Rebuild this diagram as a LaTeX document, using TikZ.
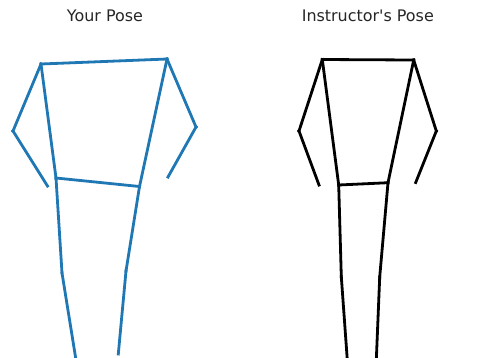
\documentclass[tikz,border=0pt]{standalone}
\usepackage{fontspec}
\setmainfont{DejaVu Sans}
\definecolor{poseblue}{RGB}{31,119,180}
\definecolor{posetitle}{RGB}{38,38,38}
\usetikzlibrary{positioning}

\begin{document}
\begin{tikzpicture}[x=1bp,y=-1bp,
  posetitle/.style={anchor=base,font=\fontsize{16}{19}\selectfont,text=posetitle},
  yourbone/.style={line width=2.8bp,poseblue,line cap=rect},
  instrbone/.style={line width=2.8bp,black,line cap=rect}
]
  \useasboundingbox (0,0) rectangle (483,357);
  % Titles
  \node[posetitle] (yourtitle) at (105,21.5) {Your Pose};
  \node[posetitle] (instrtitle) at (367.8,21.5) {Instructor\textquotesingle s Pose};
  % Your pose joints
  \coordinate (yls) at (41,64);
  \coordinate (yrs) at (167,59);
  \coordinate (yle) at (13,131);
  \coordinate (ylw) at (47.5,186);
  \coordinate (yre) at (196,127);
  \coordinate (yrw) at (168,177);
  \coordinate (ylh) at (56,178);
  \coordinate (yrh) at (139.5,186.5);
  \coordinate (ylk) at (62,273);
  \coordinate (yrk) at (126,271);
  \coordinate (yla) at (76,360);
  \coordinate (yra) at (118.3,354);
  \draw[yourbone] (yls) -- (yrs);
  \draw[yourbone] (yls) -- (yle);
  \draw[yourbone] (yle) -- (ylw);
  \draw[yourbone] (yrs) -- (yre);
  \draw[yourbone] (yre) -- (yrw);
  \draw[yourbone] (yls) -- (ylh);
  \draw[yourbone] (yrs) -- (yrh);
  \draw[yourbone] (ylh) -- (yrh);
  \draw[yourbone] (ylh) -- (ylk);
  \draw[yourbone] (ylk) -- (yla);
  \draw[yourbone] (yrh) -- (yrk);
  \draw[yourbone] (yrk) -- (yra);
  % Instructor's pose joints
  \coordinate (ils) at (322.3,59.5);
  \coordinate (irs) at (413.7,60);
  \coordinate (ile) at (299,131);
  \coordinate (ilw) at (319,185);
  \coordinate (ire) at (436.3,131);
  \coordinate (irw) at (415.7,182.5);
  \coordinate (ilh) at (338.7,185);
  \coordinate (irh) at (388,182.7);
  \coordinate (ilk) at (341.3,276.7);
  \coordinate (irk) at (379.7,277);
  \coordinate (ila) at (347.3,360);
  \coordinate (ira) at (376.3,360);
  \draw[instrbone] (ils) -- (irs);
  \draw[instrbone] (ils) -- (ile);
  \draw[instrbone] (ile) -- (ilw);
  \draw[instrbone] (irs) -- (ire);
  \draw[instrbone] (ire) -- (irw);
  \draw[instrbone] (ils) -- (ilh);
  \draw[instrbone] (irs) -- (irh);
  \draw[instrbone] (ilh) -- (irh);
  \draw[instrbone] (ilh) -- (ilk);
  \draw[instrbone] (ilk) -- (ila);
  \draw[instrbone] (irh) -- (irk);
  \draw[instrbone] (irk) -- (ira);
\end{tikzpicture}
\end{document}
